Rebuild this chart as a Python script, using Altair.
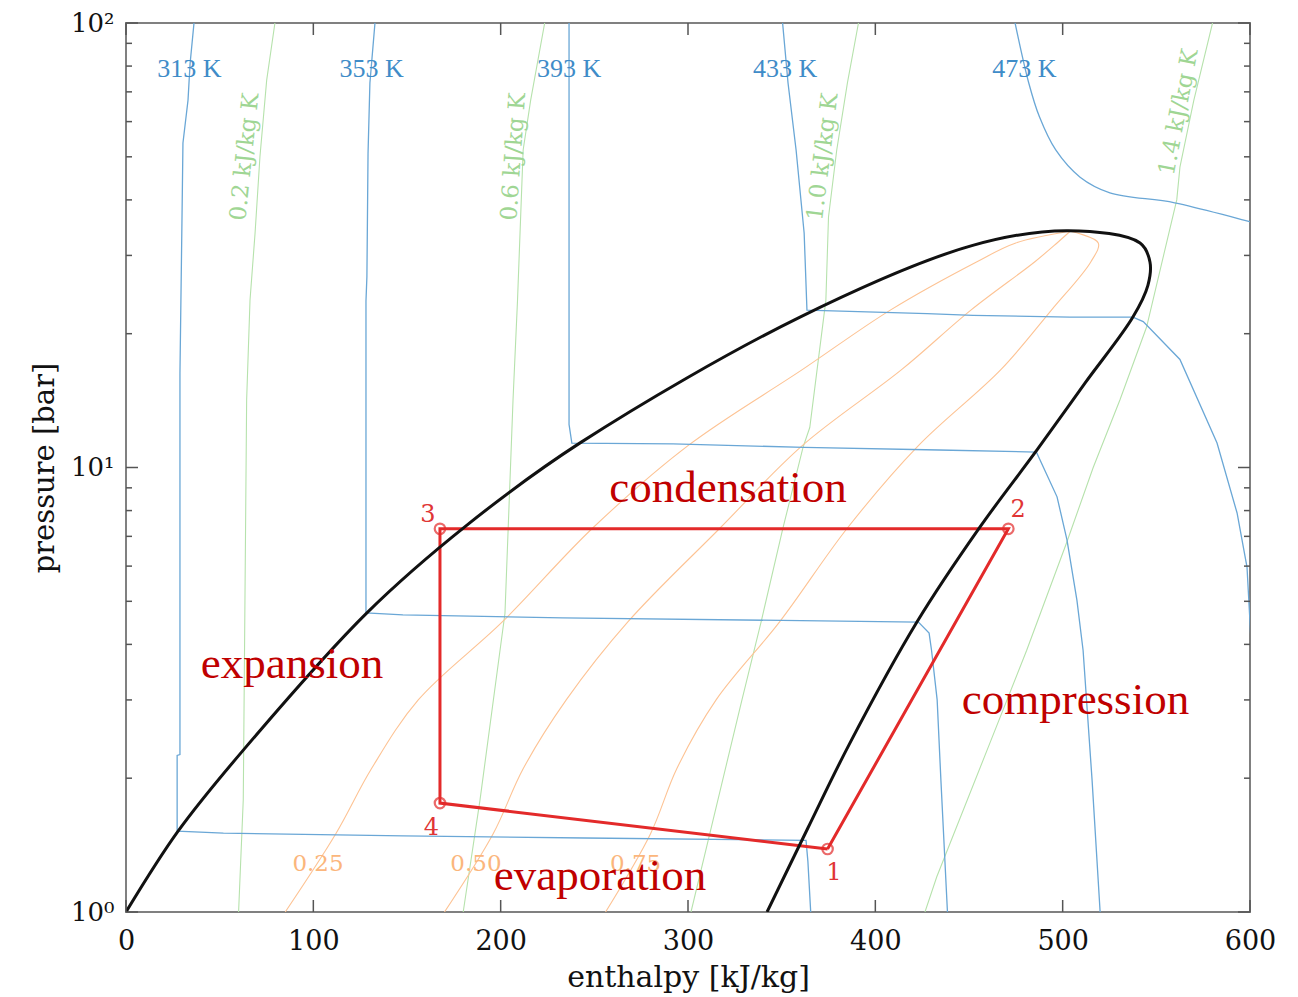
import altair as alt
import pandas as pd

# ---------------- data ----------------
# saturation dome (liquid side, critical point, vapour side)
DOME_H = [0, 27.8, 62.5, 128.6, 182, 242.4, 359.8, 452, 503,
          541.3, 546.6, 545.5, 537.5, 512, 486.3, 455.9, 422.2, 386, 364, 342.2]
DOME_P = [1.0, 1.52, 2.31, 4.71, 7.42, 11.36, 21.8, 31.6, 34.1,
          32.0, 29.0, 25.7, 21.8, 15.5, 10.95, 7.35, 4.49, 2.38, 1.545, 1.0]

# isotherms
T313_H = [36.3, 34.2, 33.1, 30.4, 29.9, 28.8, 28.8, 27.3, 27.3, 52, 148, 245, 363, 364, 365.5]
T313_P = [100, 81, 67, 53.7, 36.6, 16.3, 2.26, 2.25, 1.52, 1.505, 1.483, 1.467, 1.45, 1.3, 1.0]
T353_H = [132.9, 130.2, 129.2, 128.6, 128.1, 128.1, 147.8, 233, 423, 428.7, 430, 433, 435, 438.5]
T353_P = [100, 73.3, 50.9, 26.9, 23.7, 4.71, 4.66, 4.59, 4.49, 4.24, 3.88, 3.0, 1.98, 1.0]
T393_H = [236.5, 236.5, 238, 292, 362, 434, 486, 497, 502.3, 507.6, 510.9, 515.7, 520]
T393_P = [100, 12.5, 11.35, 11.3, 11.1, 10.95, 10.83, 8.59, 6.87, 5.03, 3.88, 1.98, 1.0]
T433_H = [350.5, 353.4, 357.7, 362, 363.5, 427.6, 452.1, 503.9, 537.5, 543, 562.6, 582.4,
          593.1, 598.4, 600.5]
T433_P = [100, 73.3, 51.8, 33.7, 22.6, 22.2, 22.0, 21.8, 21.8, 21.3, 17.5, 11.35,
          7.9, 5.97, 4.1]
T473_H = [474.6, 481.9, 487.6, 496.3, 509.3, 525.2, 559.8, 600]
T473_P = [100, 73.3, 61.5, 51.8, 45.0, 41.5, 39.4, 35.7]

# isentropes
S02_H = [79.5, 75.1, 71.5, 68.9, 66.2, 64.4, 62.6, 60.1]
S02_P = [100, 74.4, 50, 33.7, 23.8, 14.2, 1.79, 1.0]
S06_H = [223.5, 216, 212, 209, 206.6, 202.3, 189, 180]
S06_P = [100, 67, 51.8, 23.8, 14.2, 4.7, 1.79, 1.0]
S10_H = [391, 385.1, 379.4, 375, 373.6, 365, 361.4, 350.7, 339, 328.8, 316, 301.6]
S10_P = [100, 73.3, 51.8, 36.6, 23.8, 12.3, 11.1, 7.31, 4.49, 3.0, 1.79, 1.0]
S14_H = [580, 570, 562.6, 560.9, 544.8, 530.6, 516.3, 502.1, 480.8, 459.6, 432.8, 426.5]
S14_P = [100, 67, 47.4, 40, 20.7, 14.2, 10.0, 6.77, 3.88, 2.31, 1.2, 1.0]

# vapour quality lines
Q_P = [1.0, 1.5, 2.1, 3.0, 4.5, 7.3, 11.2, 16.6, 22.6, 29, 32, 34]
Q25_H = [85, 112, 131, 156, 201, 249, 300, 361, 408, 454, 475, 504]
Q50_H = [170, 196, 212, 235, 268, 317, 361, 414, 451, 485, 497, 504]
Q75_H = [256, 280, 294, 315, 349, 385, 423, 467, 494, 515, 519, 504]

# refrigeration cycle 1 -> 2 -> 3 -> 4 -> 1
CYCLE_H = [374.5, 471.0, 167.6, 167.6, 374.5]
CYCLE_P = [1.386, 7.28, 7.28, 1.758, 1.386]
CYCLE_NAMES = ["1", "2", "3", "4"]
CYCLE_LAB_H = [377.9, 476.2, 161.2, 163.0]
CYCLE_LAB_P = [1.224, 8.02, 7.82, 1.545]

# labels
ISO_T_TEXT = ["313 K", "353 K", "393 K", "433 K", "473 K"]
ISO_T_H = [33.8, 131.1, 236.5, 351.8, 479.6]
ISO_T_P = [79.0, 79.0, 79.0, 79.0, 79.0]
ISO_S_TEXT = ["0.2 kJ/kg K", "0.6 kJ/kg K", "1.0 kJ/kg K", "1.4 kJ/kg K"]
ISO_S_H = [63.5, 207.0, 372.0, 562.0]
ISO_S_P = [50.0, 50.0, 50.0, 63.0]
ISO_S_ANG = [276, 274, 277, 281]
Q_TEXT = ["0.25", "0.50", "0.75"]
Q_LAB_H = [102.5, 186.8, 272.0]
Q_LAB_P = [1.282, 1.282, 1.282]
PHASE_TEXT = ["condensation", "expansion", "compression", "evaporation"]
PHASE_H = [321.4, 88.6, 506.8, 253.0]
PHASE_P = [8.99, 3.61, 3.0, 1.205]

X_TICKS = [0, 100, 200, 300, 400, 500, 600]
Y_MAJOR = [1, 10, 100]
Y_MINOR = [2, 3, 4, 5, 6, 7, 8, 9, 20, 30, 40, 50, 60, 70, 80, 90]

# ---------------- build tables ----------------
def curves(items):
    rows = []
    for name, hs, ps in items:
        for i, (h, p) in enumerate(zip(hs, ps)):
            rows.append({"line": name, "idx": i, "h": h, "p": p})
    return pd.DataFrame(rows)

iso_t = curves([("313", T313_H, T313_P), ("353", T353_H, T353_P), ("393", T393_H, T393_P),
                ("433", T433_H, T433_P)])
iso_t473 = curves([("473", T473_H, T473_P)])
iso_s = curves([("0.2", S02_H, S02_P), ("0.6", S06_H, S06_P),
                ("1.0", S10_H, S10_P), ("1.4", S14_H, S14_P)])
qual = curves([("0.25", Q25_H, Q_P), ("0.50", Q50_H, Q_P), ("0.75", Q75_H, Q_P)])
dome = curves([("dome", DOME_H, DOME_P)])
cycle = curves([("cycle", CYCLE_H, CYCLE_P)])
cycle_pts = pd.DataFrame({"h": CYCLE_H[:4], "p": CYCLE_P[:4]})
cycle_lab = pd.DataFrame({"h": CYCLE_LAB_H, "p": CYCLE_LAB_P, "t": CYCLE_NAMES})
iso_t_lab = pd.DataFrame({"h": ISO_T_H, "p": ISO_T_P, "t": ISO_T_TEXT})
iso_s_lab = pd.DataFrame({"h": ISO_S_H, "p": ISO_S_P, "t": ISO_S_TEXT, "ang": ISO_S_ANG})
q_lab = pd.DataFrame({"h": Q_LAB_H, "p": Q_LAB_P, "t": Q_TEXT})
phase_lab = pd.DataFrame({"h": PHASE_H, "p": PHASE_P, "t": PHASE_TEXT})
xt = pd.DataFrame({"h": X_TICKS})
ymaj = pd.DataFrame({"p": Y_MAJOR})
ymin = pd.DataFrame({"p": Y_MINOR})

W, H = 1124, 889
SERIF = "DejaVu Serif"

x_axis = alt.Axis(values=X_TICKS, ticks=False, domain=False, grid=False, labelFlush=False,
                  labelFont=SERIF, labelFontSize=27, labelColor="#111", labelPadding=16,
                  title="enthalpy [kJ/kg]", titleFont=SERIF, titleFontSize=30,
                  titleFontWeight="normal", titleColor="#111", titlePadding=8)
y_axis = alt.Axis(values=Y_MAJOR, ticks=False, domain=False, grid=False, labelFlush=False,
                  labelExpr="datum.value == 1 ? '10\u2070' : (datum.value == 10 ? '10\u00b9' : '10\u00b2')",
                  labelFont=SERIF, labelFontSize=26, labelColor="#111", labelPadding=12,
                  title="pressure [bar]", titleFont=SERIF, titleFontSize=29,
                  titleFontWeight="normal", titleColor="#111", titlePadding=11)

x_enc = alt.X("h:Q", scale=alt.Scale(domain=[0, 600], nice=False, zero=False), axis=x_axis)
y_enc = alt.Y("p:Q", scale=alt.Scale(type="log", domain=[1, 100], nice=False), axis=y_axis)


def line_layer(df, color, width, interp="linear"):
    return alt.Chart(df).mark_line(color=color, strokeWidth=width, clip=True,
                                   interpolate=interp).encode(
        x=x_enc, y=y_enc, detail="line:N", order="idx:Q")


def text_layer(df, color, font, size, **kw):
    return alt.Chart(df).mark_text(color=color, font=font, fontSize=size,
                                   baseline="middle", align="center", **kw).encode(
        x=x_enc, y=y_enc, text="t:N")


green_lines = line_layer(iso_s, "#b6e2ac", 1.1)
orange_lines = line_layer(qual, "#fdc394", 1.1, "catmull-rom")
blue_lines = line_layer(iso_t, "#6aa7d6", 1.3)
blue_473 = line_layer(iso_t473, "#6aa7d6", 1.3, "catmull-rom")
cycle_line = line_layer(cycle, "#e32a2a", 3)
dome_line = line_layer(dome, "#111111", 3, "catmull-rom")
cycle_marks = alt.Chart(cycle_pts).mark_point(filled=False, color="#e32a2a", size=110,
                                               strokeWidth=2.2).encode(x=x_enc, y=y_enc)

t_labels = text_layer(iso_t_lab, "#3f8cc8", "Liberation Serif", 26)
s_labels = alt.Chart(iso_s_lab).mark_text(color="#9fd694", font=SERIF, fontSize=23,
                                          baseline="middle", align="center").encode(
    x=x_enc, y=y_enc, text="t:N", angle=alt.Angle("ang:Q", scale=None))
q_labels = text_layer(q_lab, "#fbb67c", SERIF, 23)
phase_labels = text_layer(phase_lab, "#c00000", "Liberation Serif", 45)
pt_labels = text_layer(cycle_lab, "#e03535", SERIF, 24)

TICK = "#555555"
xt_bottom = alt.Chart(xt).mark_rule(color=TICK, strokeWidth=1.5).encode(
    x=x_enc, y=alt.value(H), y2=alt.value(H - 12))
xt_top = alt.Chart(xt).mark_rule(color=TICK, strokeWidth=1.5).encode(
    x=x_enc, y=alt.value(0), y2=alt.value(12))
ymaj_l = alt.Chart(ymaj).mark_rule(color=TICK, strokeWidth=1.5).encode(
    y=y_enc, x=alt.value(0), x2=alt.value(12))
ymaj_r = alt.Chart(ymaj).mark_rule(color=TICK, strokeWidth=1.5).encode(
    y=y_enc, x=alt.value(W), x2=alt.value(W - 12))
ymin_l = alt.Chart(ymin).mark_rule(color=TICK, strokeWidth=1.5).encode(
    y=y_enc, x=alt.value(0), x2=alt.value(6))
ymin_r = alt.Chart(ymin).mark_rule(color=TICK, strokeWidth=1.5).encode(
    y=y_enc, x=alt.value(W), x2=alt.value(W - 6))

chart = alt.layer(
    green_lines, orange_lines, blue_lines, blue_473, cycle_line, dome_line,
    t_labels, s_labels, q_labels, cycle_marks, phase_labels, pt_labels,
    xt_bottom, xt_top, ymaj_l, ymaj_r, ymin_l, ymin_r,
).properties(
    width=W, height=H,
    padding={"left": 126, "top": 23, "right": 48, "bottom": 85},
    autosize=alt.AutoSizeParams(type="none"),
    background="white",
).configure_view(stroke="#808080", strokeWidth=2)

chart.save("out.html", embed_options={"renderer": "svg", "actions": False})
